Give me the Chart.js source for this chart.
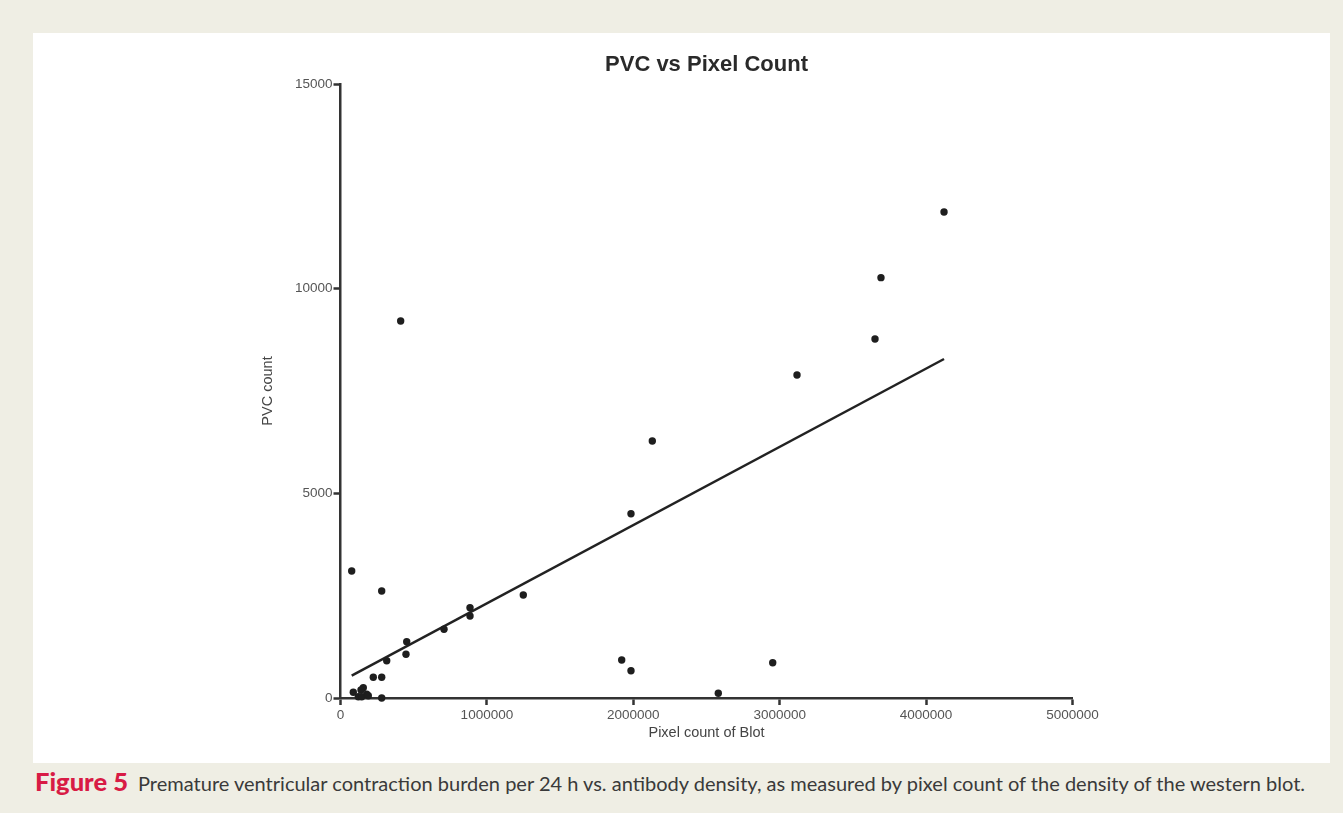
<!DOCTYPE html>
<html>
<head>
<meta charset="utf-8">
<script src="https://cdn.jsdelivr.net/npm/chart.js@4.4.1/dist/chart.umd.min.js"></script>
<style>
  html, body { margin: 0; padding: 0; }
  body { width: 1343px; height: 813px; background: #efeee4; position: relative; overflow: hidden; }
  #panel { position: absolute; left: 33px; top: 33px; width: 1297px; height: 730px; background: #ffffff; }
  #chart { position: absolute; left: 0; top: 0; }
  #caption { position: absolute; left: 35px; top: 768px; white-space: nowrap; line-height: 26px;
    font-family: Lato, "Open Sans", sans-serif; color: #3a3a3a; }
  #figlab { color: #d81b45; font-weight: 900; font-size: 22px; display: inline-block; }
  #captext { font-size: 20px; display: inline-block; margin-left: 10px; }
</style>
</head>
<body>
<div id="panel"><canvas id="chart" width="1297" height="730"></canvas></div>
<div id="caption"><span id="figlab">Figure 5</span><span id="captext">Premature ventricular contraction burden per 24 h vs. antibody density, as measured by pixel count of the density of the western blot.</span></div>
<script>
// ---- data ----
const pixelCount = [76500, 281400, 1248600, 884600, 884600, 707000, 452200, 447400, 315600, 224000,
                    281400, 87400, 121600, 155700, 140000, 144800, 179000, 189900, 281400, 411000,
                    4122500, 3691900, 3651000, 3118200, 2129800, 1984300, 1920800, 1984300, 2580600, 2952200];
const pvcCount   = [3103, 2614, 2516, 2206, 2003, 1678, 1375, 1068, 911, 506,
                    506, 139, 32, 252, 195, 32, 90, 56, 0, 9211,
                    11874, 10269, 8771, 7892, 6279, 4503, 928, 667, 115, 862];
const fitX = [76500, 4122500];
const fitY = [545, 8282];
const xTickValues = [0, 1000000, 2000000, 3000000, 4000000, 5000000];
const xTickLabels = ['0', '1000000', '2000000', '3000000', '4000000', '5000000'];
const yTickValues = [0, 5000, 10000, 15000];
const yTickLabels = ['0', '5000', '10000', '15000'];
const chartTitle = 'PVC vs Pixel Count';
const xTitle = 'Pixel count of Blot';
const yTitle = 'PVC count';

// fit caption widths to the reference (label ~93px wide, body text ~1167px wide)
(function fitCaption() {
  const lab = document.getElementById('figlab');
  const txt = document.getElementById('captext');
  const lw = lab.getBoundingClientRect().width;
  lab.style.fontSize = (22 * 93 / lw).toFixed(2) + 'px';
  const tw = txt.getBoundingClientRect().width;
  txt.style.fontSize = (20 * 1167 / tw).toFixed(2) + 'px';
})();

const scatterPts = pixelCount.map((x, i) => ({ x: x, y: pvcCount[i] }));
const fitPts = fitX.map((x, i) => ({ x: x, y: fitY[i] }));

const axisColor = '#333333';
const tickFont = { family: 'Liberation Sans, Arial, sans-serif', size: 13.5 };
const titleFont = { family: 'Liberation Sans, Arial, sans-serif', size: 14.5 };

new Chart(document.getElementById('chart'), {
  type: 'scatter',
  data: {
    datasets: [
      {
        data: scatterPts,
        pointRadius: 3.7,
        pointHoverRadius: 3.7,
        pointBackgroundColor: '#1e1e1e',
        pointBorderWidth: 0,
        clip: false
      },
      {
        type: 'line',
        data: fitPts,
        showLine: true,
        borderColor: '#222222',
        borderWidth: 2.5,
        pointRadius: 0,
        fill: false,
        clip: false
      }
    ]
  },
  options: {
    responsive: false,
    animation: false,
    devicePixelRatio: 1,
    layout: { padding: { left: 226.3, right: 257.5, top: 0, bottom: 21.3 } },
    plugins: {
      legend: { display: false },
      tooltip: { enabled: false },
      title: {
        display: true,
        text: chartTitle,
        fullSize: false,
        color: '#2a2a2a',
        font: { family: 'Liberation Sans, Arial, sans-serif', size: 22, weight: 'bold', lineHeight: 1.2 },
        padding: { top: 18.3, bottom: 6.3 }
      }
    },
    scales: {
      x: {
        type: 'linear',
        min: 0, max: 5000000,
        afterBuildTicks: (s) => { s.ticks = xTickValues.map(v => ({ value: v })); },
        afterFit: (s) => { s.height = 43.7; },
        ticks: {
          color: '#555555', font: tickFont, padding: 2, maxRotation: 0, autoSkip: false,
          callback: (v) => xTickLabels[xTickValues.indexOf(v)]
        },
        grid: { display: true, drawOnChartArea: false, drawTicks: true, tickLength: 7, tickWidth: 2.5, color: axisColor },
        border: { display: true, color: axisColor, width: 2.5 },
        title: { display: true, text: xTitle, color: '#444444', font: titleFont, padding: 0 }
      },
      y: {
        type: 'linear',
        min: 0, max: 15000,
        afterBuildTicks: (s) => { s.ticks = yTickValues.map(v => ({ value: v })); },
        afterFit: (s) => { s.width = 307.5 - 226.3; },
        ticks: {
          color: '#555555', font: tickFont, padding: 1, autoSkip: false,
          callback: (v) => yTickLabels[yTickValues.indexOf(v)]
        },
        grid: { display: true, drawOnChartArea: false, drawTicks: true, tickLength: 7, tickWidth: 2.5, color: axisColor },
        border: { display: true, color: axisColor, width: 2.5 },
        title: { display: true, text: yTitle, color: '#444444', font: titleFont, padding: 0 }
      }
    }
  }
});
</script>
</body>
</html>
